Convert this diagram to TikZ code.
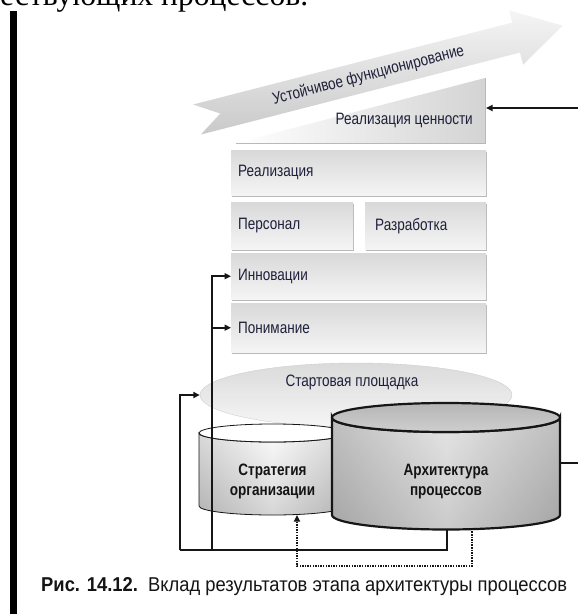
\documentclass[tikz,border=0pt]{standalone}
\usepackage{fontspec}
\setmainfont{Liberation Sans}
\newfontfamily\nf{Liberation Sans}[FakeStretch=0.82]
\newfontfamily\serifF{Liberation Serif}
\usetikzlibrary{arrows.meta,shapes.geometric,shadows}
\definecolor{txt}{RGB}{30,32,58}
\definecolor{ln}{RGB}{22,22,22}
\newcommand\SCylBody{(199,-433) -- (199,-506) arc[start angle=180,end angle=360,x radius=73.5,y radius=9] -- (346,-433) arc[start angle=0,end angle=-180,x radius=73.5,y radius=9] -- cycle}
\newcommand\BCylBody{(332,-417.5) -- (332,-515) arc[start angle=180,end angle=360,x radius=114,y radius=14.5] -- (560,-417.5) arc[start angle=0,end angle=-180,x radius=114,y radius=14.5] -- cycle}
\begin{document}
\begin{tikzpicture}[x=1pt,y=1pt,
  layer/.style={shade, top color=gray!30, bottom color=gray!8, anchor=north west,
    inner xsep=7pt, inner ysep=0pt, align=left, font=\nf\fontsize{16.5}{18}\selectfont, text=txt,
    drop shadow={shadow xshift=1pt, shadow yshift=-1.3pt, fill=gray!70, opacity=0.8}},
  conn/.style={line width=1.7pt, draw=ln},
  tip/.style={-{Triangle[length=6.5pt,width=6pt]}},
  dots/.style={line width=1.6pt, draw=ln, dash pattern=on 1.5pt off 1.1pt},
  lbl/.style={font=\nf\fontsize{16.5}{18}\selectfont, text=txt, inner sep=0pt},
  cyl/.style={font=\nf\bfseries\fontsize{16.5}{20}\selectfont, text=black!92, align=center, inner sep=0pt}]
\useasboundingbox (0,0) rectangle (578,-614);

% fragment of the page text above
\node[anchor=base west, inner sep=0pt] (frag) at (0,-5.5)
  {\resizebox{308pt}{!}{\serifF\fontsize{32}{36}\selectfont ествующих процессов.}};

% left bar
\fill[black] (10,-11) rectangle (17,-614);

% big arrow
\begin{scope}[shift={(197,-119.5)}, rotate=14.4]
  \shade[top color=gray!8, bottom color=gray!42]
    (0,15.5) -- (329.5,15.5) -- (329.5,28) -- (377.5,0) -- (329.5,-28)
    -- (329.5,-15.5) -- (0,-15.5) -- (24,0) -- cycle;
  \node[lbl, rotate=14.4] (sust) at (177,0) {Устойчивое функционирование};
\end{scope}

% wedge
\shade[left color=white, right color=gray!34] (236,-143) -- (485,-78) -- (485,-143) -- cycle;
\draw[gray!55, line width=1pt] (236,-143.5) -- (485.5,-143.5) -- (485.5,-78);
\node[lbl, anchor=east] (rv) at (473,-120) {Реализация ценности};
\coordinate (rvin) at (486,-108);

% layers
\node[layer, text width=241pt, minimum height=45pt] (real) at (231,-150) {Реализация};
\node[layer, text width=108pt, minimum height=47pt] (pers) at (231,-202) {Персонал};
\node[layer, inner xsep=10pt, text width=101pt, minimum height=47pt] (razr) at (365,-202) {Разработка};
\node[layer, text width=241pt, minimum height=46pt] (innov) at (231,-253) {Инновации};
\node[layer, text width=241pt, minimum height=49pt] (ponim) at (231,-303) {Понимание};

% launch pad
\node[ellipse, shade, top color=gray!32, bottom color=gray!8, draw=gray!38,
  minimum width=312pt, minimum height=64pt, fill opacity=0.9] (start) at (356,-395) {};
\node[lbl] (startlbl) at (352,-382) {Стартовая площадка};

% small cylinder
\shade[top color=gray!5, bottom color=gray!58] \SCylBody;
\shade[left color=gray!60, right color=gray!60, middle color=white, opacity=0.45] \SCylBody;
\draw[ln, line width=0.8pt] \SCylBody;
\filldraw[fill=white, fill opacity=0.6, draw=ln, line width=0.8pt] (272.5,-433) ellipse[x radius=73.5, y radius=9];

% big cylinder
\shade[top color=gray!28, bottom color=gray!66] \BCylBody;
\shade[left color=gray!75, right color=gray!75, middle color=gray!10, opacity=0.45] \BCylBody;
\draw[ln, line width=2.2pt] \BCylBody;
\shade[draw=ln, line width=2.2pt, top color=gray!58, bottom color=gray!38] (446,-417.5) ellipse[x radius=114, y radius=14.5];

\node[cyl] (strat) at (272.5,-481) {Стратегия\\организации};
\node[cyl] (arch) at (446,-482) {Архитектура\\процессов};

% connector points
\coordinate (archbot) at (447,-529.5);
\coordinate (archbot2) at (472,-528.8);
\coordinate (archE) at (560,-463);
\coordinate (stratbot) at (297,-515);
\coordinate (loopL) at (180,-550);
\coordinate (loopM) at (212,-550);
\coordinate (offR) at (600,-463);

% connectors
\draw[conn] (archbot) |- (loopL);
\draw[conn, tip] (loopL) |- (start.west);
\draw[conn, tip] (loopM) |- (innov.west);
\draw[conn, tip] (loopM |- ponim.west) -- (ponim.west);
\draw[dots, tip] (archbot2) -- ++(0,-37) -| (stratbot);
\draw[conn, tip] (archE) -- (offR) |- (rvin);

% caption
\node[anchor=base west, inner sep=0pt, text=black!92] (cap) at (41,-591)
  {\resizebox{526pt}{14pt}{\nf\fontsize{19}{22}\selectfont\textbf{Рис. 14.12.}\ \ Вклад результатов этапа архитектуры процессов}};
\end{tikzpicture}
\end{document}
